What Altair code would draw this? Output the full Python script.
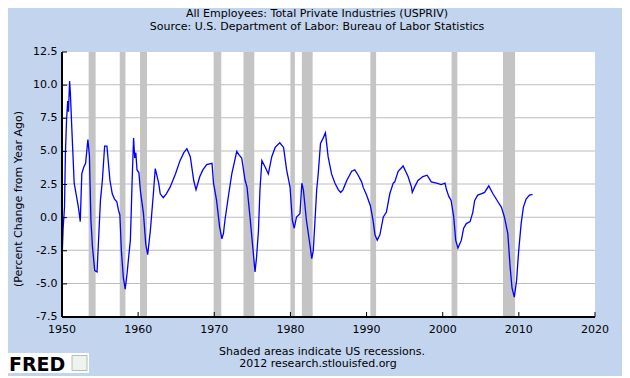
import altair as alt
import pandas as pd

# ---- data (percent change from year ago) ----
years = [1950.0, 1950.15, 1950.33, 1950.45, 1950.6, 1950.75, 1950.85, 1951.0, 1951.1, 1951.3,
         1951.6, 1952.0, 1952.2, 1952.4, 1952.6, 1952.85, 1953.1, 1953.4, 1953.6, 1953.8,
         1954.0, 1954.3, 1954.6, 1954.8, 1955.05, 1955.3, 1955.6, 1955.9, 1956.3, 1956.6,
         1956.9, 1957.2, 1957.4, 1957.6, 1957.8, 1958.05, 1958.3, 1958.55, 1958.75, 1958.98,
         1959.1, 1959.2, 1959.3, 1959.4, 1959.55, 1959.7, 1959.85, 1960.1, 1960.3, 1960.7,
         1961.0, 1961.25, 1961.6, 1962.0, 1962.25, 1962.7, 1962.9, 1963.3, 1963.7, 1964.2,
         1964.9, 1965.5, 1966.0, 1966.4, 1966.85, 1967.3, 1967.6, 1968.1, 1968.5, 1969.0,
         1969.7, 1969.9, 1970.3, 1970.7, 1971.0, 1971.2, 1971.4, 1971.9, 1972.3, 1972.95,
         1973.3, 1973.6, 1974.05, 1974.3, 1974.7, 1975.05, 1975.35, 1975.55, 1975.8, 1976.0,
         1976.25, 1976.7, 1977.1, 1977.55, 1978.0, 1978.6, 1979.1, 1979.5, 1979.95, 1980.25,
         1980.5, 1980.8, 1981.25, 1981.5, 1981.7, 1982.1, 1982.6, 1982.8, 1983.0, 1983.2,
         1983.45, 1983.65, 1983.95, 1984.3, 1984.6, 1984.95, 1985.4, 1985.85, 1986.3, 1986.6,
         1986.9, 1987.4, 1988.05, 1988.45, 1988.9, 1989.35, 1989.55, 1990.0, 1990.5, 1990.85,
         1991.1, 1991.4, 1991.75, 1992.2, 1992.6, 1993.05, 1993.5, 1993.7, 1994.15, 1994.8,
         1995.45, 1995.9, 1996.0, 1996.3, 1996.75, 1997.4, 1997.95, 1998.5, 1999.2, 1999.8,
         2000.3, 2000.5, 2000.8, 2001.1, 2001.45, 2001.7, 2002.0, 2002.45, 2002.75, 2003.1,
         2003.6, 2003.95, 2004.2, 2004.6, 2005.05, 2005.5, 2006.05, 2006.6, 2007.25, 2007.7,
         2008.1, 2008.55, 2008.85, 2009.1, 2009.4, 2009.7, 2009.95, 2010.3, 2010.6, 2010.95,
         2011.4, 2011.8]
values = [-3.2, -0.8, 0.8, 4.9, 7.4, 8.8, 8.0, 10.3, 9.4, 6.6,
          2.6, 1.3, 0.6, -0.3, 3.3, 3.8, 4.1, 5.9, 4.7, -0.2,
          -2.2, -4.0, -4.1, -1.7, 1.3, 2.8, 5.4, 5.4, 2.8, 1.8,
          1.4, 1.2, 0.6, 0.2, -2.5, -4.5, -5.4, -4.2, -3.0, -1.7,
          0.55, 2.6, 4.3, 6.0, 4.5, 4.9, 3.6, 3.4, 2.0, 0.3,
          -2.0, -2.8, -1.0, 1.8, 3.7, 2.6, 1.8, 1.5, 1.8, 2.3,
          3.3, 4.3, 4.9, 5.2, 4.6, 2.8, 2.1, 3.1, 3.6, 4.0,
          4.1, 2.6, 1.3, -0.7, -1.6, -1.2, -0.2, 1.8, 3.3, 5.0,
          4.7, 4.5, 2.8, 2.3, 0.0, -2.2, -4.1, -3.0, -1.0, 2.1,
          4.3, 3.8, 3.3, 4.6, 5.3, 5.65, 5.3, 3.6, 2.3, -0.2,
          -0.8, 0.05, 0.3, 2.6, 2.1, -0.2, -2.2, -3.1, -2.5, -0.5,
          2.1, 3.3, 5.6, 6.0, 6.4, 4.6, 3.3, 2.6, 2.1, 1.9,
          2.1, 2.8, 3.5, 3.6, 3.2, 2.7, 2.3, 1.7, 0.9, -0.2,
          -1.3, -1.7, -1.3, 0.05, 0.4, 1.8, 2.6, 2.7, 3.5, 3.9,
          3.1, 2.3, 1.9, 2.3, 2.8, 3.1, 3.2, 2.7, 2.6, 2.5,
          2.6, 2.1, 1.6, 1.3, 0.05, -1.7, -2.3, -1.7, -0.8, -0.45,
          -0.3, 0.4, 1.3, 1.7, 1.8, 1.9, 2.4, 1.8, 1.2, 0.8,
          0.05, -1.2, -3.7, -5.3, -6.0, -4.75, -2.7, -0.45, 0.8, 1.4,
          1.7, 1.76]

rec_start = [1953.5, 1957.583, 1960.25, 1969.917, 1973.833, 1980.0, 1981.5, 1990.5, 2001.167, 2007.917]
rec_end = [1954.417, 1958.333, 1961.167, 1970.917, 1975.25, 1980.583, 1982.917, 1991.25, 2001.917, 2009.5]

x_ticks = [1950, 1960, 1970, 1980, 1990, 2000, 2010, 2020]
x_labels = ["1950", "1960", "1970", "1980", "1990", "2000", "2010", "2020"]
y_ticks = [-7.5, -5.0, -2.5, 0.0, 2.5, 5.0, 7.5, 10.0, 12.5]
y_labels = ["-7.5", "-5.0", "-2.5", "0.0", "2.5", "5.0", "7.5", "10.0", "12.5"]

title1 = "All Employees: Total Private Industries (USPRIV)"
title2 = "Source: U.S. Department of Labor: Bureau of Labor Statistics"
y_title = "(Percent Change from Year Ago)"
foot1 = "Shaded areas indicate US recessions."
foot2 = "2012 research.stlouisfed.org"
logo = "FRED"

# ---- styling ----
W, H = 533, 265
BG = "#c3d4ef"
FONT = "DejaVu Sans"

xs = alt.Scale(domain=[1950, 2020], nice=False, zero=False)
ys = alt.Scale(domain=[-7.5, 12.5], nice=False, zero=False)

series = pd.DataFrame({"year": years, "value": values})
rec = pd.DataFrame({"start": rec_start, "end": rec_end})
xlab = pd.DataFrame({"xt": x_ticks, "xlab": x_labels})
ylab = pd.DataFrame({"yt": y_ticks, "ylab": y_labels})

# thin grey horizontal grid bands at the inner y ticks, beneath the recession bars
grid = alt.Chart(ylab).transform_filter(
    "datum.yt > -7.5 && datum.yt < 12.5"
).transform_calculate(
    ytop="datum.yt + 0.075"
).mark_rect(color="#bdbdbd").encode(
    y=alt.Y("yt:Q", scale=ys, axis=None), y2="ytop:Q",
    x=alt.value(0), x2=alt.value(W)
)

bars = alt.Chart(rec).mark_rect(color="#c4c4c4").encode(
    x=alt.X("start:Q", scale=xs, axis=None), x2="end:Q",
    y=alt.value(0), y2=alt.value(H)
)

line = alt.Chart(series).mark_line(color="#0000ff", strokeWidth=1.3).encode(
    x=alt.X("year:Q", scale=xs, axis=None),
    y=alt.Y("value:Q", scale=ys, axis=None)
)

# axis lines, inward ticks and tick labels
x_dom = alt.Chart(xlab).mark_rule(color="black").encode(
    x=alt.value(0), x2=alt.value(W), y=alt.value(H)
)
y_dom = alt.Chart(xlab).mark_rule(color="black").encode(
    x=alt.value(0), y=alt.value(0), y2=alt.value(H)
)
xt = alt.Chart(xlab).mark_rule(color="black").encode(
    x=alt.X("xt:Q", scale=xs, axis=None), y=alt.value(H), y2=alt.value(H - 5)
)
yt = alt.Chart(ylab).mark_rule(color="black").encode(
    y=alt.Y("yt:Q", scale=ys, axis=None), x=alt.value(0), x2=alt.value(5)
)
xl = alt.Chart(xlab).mark_text(font=FONT, fontSize=11, color="black",
                               align="center", baseline="middle").encode(
    x=alt.X("xt:Q", scale=xs, axis=None), y=alt.value(H + 13), text="xlab:N"
)
yl = alt.Chart(ylab).mark_text(font=FONT, fontSize=11, color="black",
                               align="right", baseline="middle").encode(
    y=alt.Y("yt:Q", scale=ys, axis=None), x=alt.value(-4.5), text="ylab:N"
)


def label(txt, x, y, size=11, weight="normal", align="center", angle=0, baseline="middle"):
    return alt.Chart(pd.DataFrame({"txt": [txt]})).mark_text(
        font=FONT, fontSize=size, fontWeight=weight, align=align, baseline=baseline,
        angle=angle, color="black"
    ).encode(text="txt:N", x=alt.value(x), y=alt.value(y))


logo_box = alt.Chart(pd.DataFrame({"txt": [logo]})).mark_rect(color="white").encode(
    x=alt.value(-54), x2=alt.value(27), y=alt.value(301), y2=alt.value(321)
)
icon_box = alt.Chart(pd.DataFrame({"txt": [logo]})).mark_rect(
    fill="#eef3ee", stroke="#b0c0b0", strokeWidth=1
).encode(x=alt.value(10), x2=alt.value(25), y=alt.value(303.5), y2=alt.value(318.5))

texts = [
    label(title1, 255, -38.5),
    label(title2, 255, -25),
    label(y_title, -43.5, 147, angle=270),
    label(foot1, 260, 299.5),
    label(foot2, 256, 312),
    logo_box,
    icon_box,
    label(logo, -53, 319, size=19, weight="bold", align="left", baseline="alphabetic"),
]

chart = alt.layer(grid, bars, line, x_dom, y_dom, xt, yt, xl, yl, *texts).properties(
    width=W, height=H, background=BG, autosize="none",
    padding={"left": 54, "top": 44, "right": 27, "bottom": 59}
).configure_view(stroke=None, fill="white")

chart.save("out.html", embed_options={"renderer": "svg", "actions": False})
